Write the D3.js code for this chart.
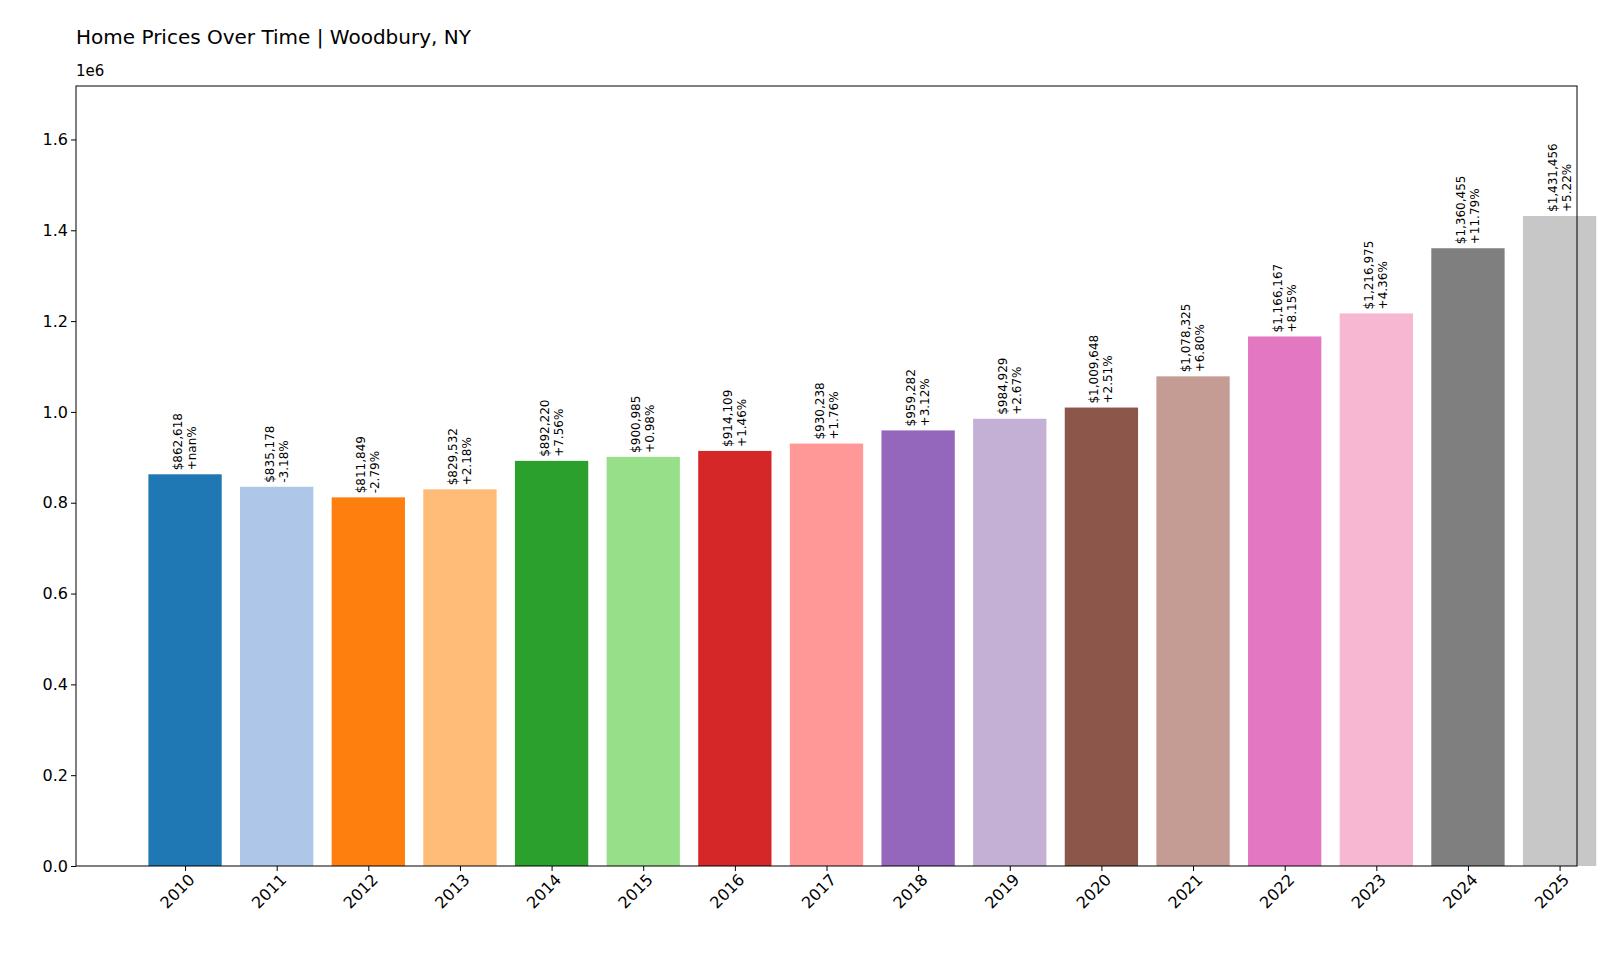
<!DOCTYPE html><html><head><meta charset="utf-8">
<script src="https://cdn.jsdelivr.net/npm/d3@7"></script>
<style>body{margin:0;background:#fff}text{font-family:"DejaVu Sans",sans-serif}</style></head><body>
<svg id="c" width="1600" height="960"></svg>
<script>
const years=["2010","2011","2012","2013","2014","2015","2016","2017","2018","2019","2020","2021","2022","2023","2024","2025"];
const prices=[862618,835178,811849,829532,892220,900985,914109,930238,959282,984929,1009648,1078325,1166167,1216975,1360455,1431456];
const changes=["+nan%","-3.18%","-2.79%","+2.18%","+7.56%","+0.98%","+1.46%","+1.76%","+3.12%","+2.67%","+2.51%","+6.80%","+8.15%","+4.36%","+11.79%","+5.22%"];
const colors=["#1f77b4","#aec7e8","#ff7f0e","#ffbb78","#2ca02c","#98df8a","#d62728","#ff9896","#9467bd","#c5b0d5","#8c564b","#c49c94","#e377c2","#f7b6d2","#7f7f7f","#c7c7c7"];
const yTicks=[0,0.2e6,0.4e6,0.6e6,0.8e6,1.0e6,1.2e6,1.4e6,1.6e6];
const svg=d3.select("#c");
const L=76,R=1577,T=86,B=866;
const x=d3.scaleLinear().domain([-1.19,15.19]).range([L,R]);
const y=d3.scaleLinear().domain([0,d3.max(prices)*1.2]).range([B,T]);
const bw=x(0.8)-x(0);
svg.append("text").attr("x",L).attr("y",44).attr("font-size",20).text("Home Prices Over Time | Woodbury, NY");
svg.append("text").attr("x",L).attr("y",76).attr("font-size",15).text("1e6");
svg.selectAll("rect.b").data(prices).join("rect").attr("x",(d,i)=>x(i)-bw/2).attr("width",bw)
 .attr("y",d=>y(d)).attr("height",d=>B-y(d)).attr("fill",(d,i)=>colors[i]);
const lab=svg.selectAll("g.l").data(prices).join("g").attr("transform",(d,i)=>`translate(${x(i)},${y(d)-4}) rotate(-90)`);
lab.append("text").attr("font-size",12).attr("x",0).attr("y",-3).text(d=>"$"+d3.format(",")(d));
lab.append("text").attr("font-size",12).attr("x",0).attr("y",11).text((d,i)=>changes[i]);
const ya=svg.append("g").attr("transform",`translate(${L},0)`).call(d3.axisLeft(y).tickValues(yTicks).tickFormat(d=>(d/1e6).toFixed(1)).tickSizeOuter(0).tickSize(5));
ya.selectAll("text").attr("font-size",16).attr("font-family","DejaVu Sans");
const xa=svg.append("g").attr("transform",`translate(0,${B})`).call(d3.axisBottom(x).tickValues(d3.range(16)).tickFormat(i=>years[i]).tickSizeOuter(0).tickSize(5));
xa.selectAll("text").attr("font-size",16).attr("font-family","DejaVu Sans").attr("text-anchor","end").attr("dx","-0.2em").attr("dy","0.6em").attr("transform","rotate(-45)");
svg.selectAll(".domain").remove();
svg.append("rect").attr("x",L).attr("y",T).attr("width",R-L).attr("height",B-T).attr("fill","none").attr("stroke","#000");
</script></body></html>
